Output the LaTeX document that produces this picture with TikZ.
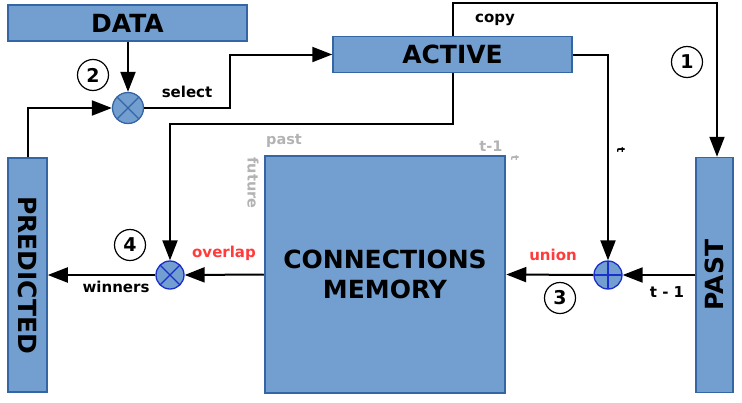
\documentclass[tikz,border=0pt]{standalone}
\usepackage{fontspec}
\setmainfont{DejaVu Sans}
\usepackage{tikz}
\usetikzlibrary{calc,arrows.meta}
\definecolor{boxfill}{HTML}{729FCF}
\definecolor{boxline}{HTML}{3465A4}
\definecolor{opline}{HTML}{1A2FCC}
\definecolor{hot}{HTML}{FF3B3B}
\definecolor{grey}{HTML}{B3B3B3}
\tikzset{
  box/.style={draw=boxline, fill=boxfill, line width=1.5pt, inner sep=0pt, align=center, font=\bfseries\fontsize{25}{30}\selectfont},
  wire/.style={draw=black, line width=2pt},
  conn/.style={wire, -{Triangle[length=20pt,width=15pt]}},
  op/.style={circle, fill=boxfill, line width=1.3pt, minimum size=28pt, inner sep=0pt},
  opprod/.style={op, draw=#1, path picture={
    \draw[#1, line width=1.3pt] (path picture bounding box.north west) -- (path picture bounding box.south east)
      (path picture bounding box.north east) -- (path picture bounding box.south west);}},
  opprod/.default=opline,
  opsum/.style={op, draw=#1, path picture={
    \draw[#1, line width=1.3pt] (path picture bounding box.north) -- (path picture bounding box.south)
      (path picture bounding box.west) -- (path picture bounding box.east);}},
  opsum/.default=opline,
  num/.style={circle, draw=black, fill=white, line width=1.2pt, minimum size=31pt, inner sep=0pt, font=\bfseries\fontsize{19}{19}\selectfont},
  lab/.style={text=black, font=\bfseries\fontsize{15}{17}\selectfont},
  labr/.style={lab, text=hot},
  labg/.style={text=grey, font=\bfseries\fontsize{14.5}{17}\selectfont},
  tiny/.style={font=\bfseries\fontsize{11}{11}\selectfont},
}
\begin{document}
\begin{tikzpicture}[x=1pt,y=-1pt]
  \useasboundingbox (0,0) rectangle (742,402);
  \coordinate (selturn) at (230,108);
  \coordinate (copyturn) at (717,3);
  \coordinate (ovlturn) at (170,124);

  % blocks (rotated ones: north is the side the text faces)
  \node[box, minimum width=239pt, minimum height=36pt] (data) at (127.5,23) {DATA};
  \node[box, minimum width=239pt, minimum height=36pt] (act) at (452.5,54.5) {ACTIVE};
  \node[box, rotate=-90, minimum width=234pt, minimum height=39pt] (pred) at (27.5,275) {PREDICTED};
  \node[box, rotate=90, minimum width=235pt, minimum height=37pt] (past) at (714.5,275) {PAST};
  \node[box, line width=2.5pt, minimum width=240pt, minimum height=237pt] (mem) at (385,274.5) {CONNECTIONS\\MEMORY};

  \node[opprod=boxline, minimum size=31pt] (sel) at (128,108) {};
  \node[opprod] (ovl) at (170,275) {};
  \node[opsum] (uni) at (608,275) {};

  \node[num] (n1) at (687,62) {1};
  \node[num] (n2) at (93,75) {2};
  \node[num] (n3) at (560,298) {3};
  \node[num] (n4) at (130,245) {4};

  \draw[conn] (data.south -| sel.north) -- (sel.north);
  \draw[conn] (pred.west) |- (sel.west);
  \draw[conn] (sel.east) -- (selturn) |- (act.west);
  \draw[conn] (act.north) |- (copyturn) -- (copyturn |- past.east);
  \draw[conn] (act.south) |- (ovlturn) -- (ovl.north);
  \draw[conn] (act.east) -| (uni.north);
  \draw[conn] (past.north) -- (uni.east);
  \draw[conn] (uni.west) -- (mem.east);
  \draw[conn] (mem.west) -- (ovl.east);
  \draw[conn] (ovl.west) -- (pred.north);

  \node[lab] (lsel) at (187,92) {select};
  \node[lab] (lcopy) at (495,20) {copy};
  \node[lab] (lwin) at (116,287) {winners};
  \node[labr] (lovl) at (224,253) {overlap};
  \node[labr] (luni) at (553,255) {union};
  \node[lab] (ltm) at (667,292) {t - 1};
  \node[lab, tiny, rotate=-90] (lt) at (621,150) {t};

  \node[labg] (gpast) at (284,141) {past};
  \node[labg] (gtm) at (491,146) {t-1};
  \node[labg, tiny, rotate=-90] (gt) at (515,158) {t};
  \node[labg, rotate=-90] (gfut) at (253,183) {future};
\end{tikzpicture}
\end{document}
